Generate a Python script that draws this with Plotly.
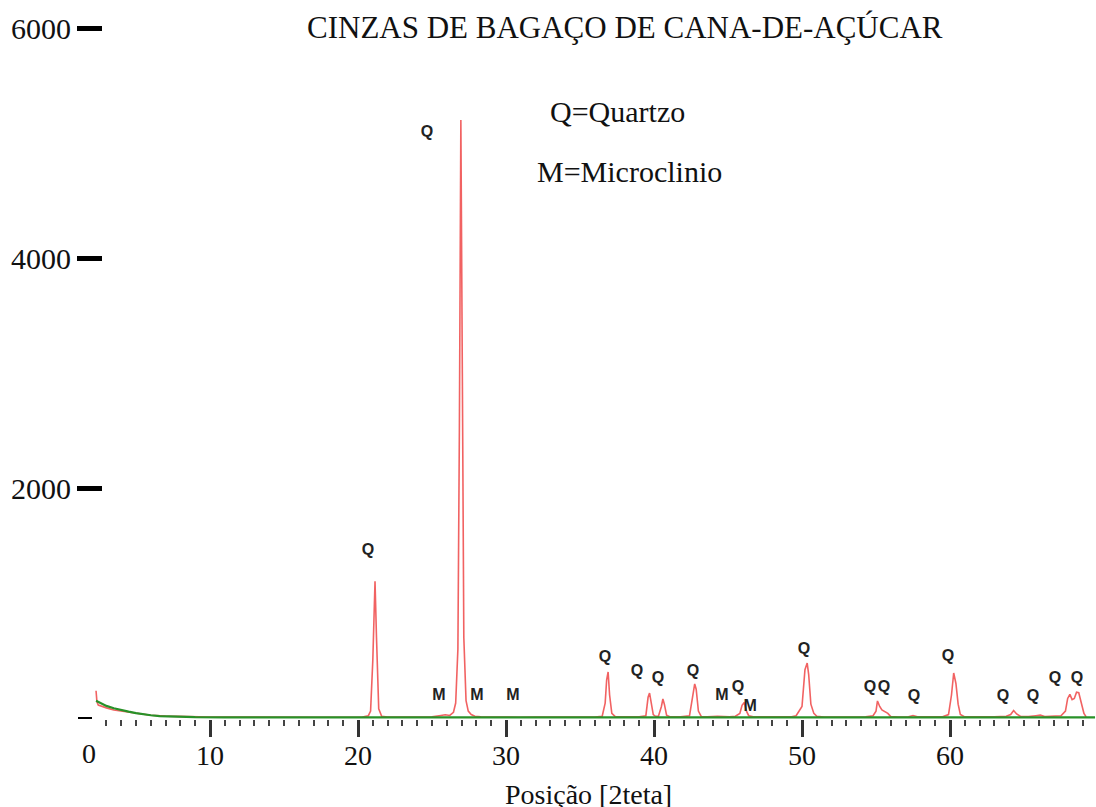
import plotly.graph_objects as go

# ---- data ----
two_theta = [2.30, 2.36, 2.45, 2.7, 3.0, 3.5, 4.0, 4.5, 5.0, 5.5, 6.0, 7.0, 8.0, 9.0, 10.0,
             11.5, 13.0, 15.0, 17.0, 19.0, 20.3, 20.7, 20.85, 21.0, 21.1, 21.15, 21.25, 21.4,
             21.6, 22.0, 23.0, 24.0, 25.0, 25.6, 25.9, 26.2, 26.45, 26.6, 26.75, 26.85, 26.95,
             27.05, 27.15, 27.3, 27.45, 27.65, 27.9, 28.3, 29.0, 30.0, 31.0, 32.0, 33.0, 34.0,
             35.0, 36.0, 36.5, 36.7, 36.8, 36.9, 37.0, 37.15, 37.4, 38.0, 39.0, 39.45, 39.6,
             39.7, 39.8, 39.95, 40.1, 40.3, 40.5, 40.6, 40.7, 40.85, 41.1, 41.8, 42.4, 42.6,
             42.75, 42.85, 43.0, 43.2, 43.6, 44.3, 44.7, 45.1, 45.5, 45.8, 45.95, 46.1, 46.25,
             46.4, 46.7, 47.5, 48.5, 49.3, 49.6, 50.0, 50.2, 50.35, 50.45, 50.6, 50.8, 51.0,
             51.5, 52.5, 53.5, 54.3, 54.8, 55.0, 55.1, 55.25, 55.4, 55.6, 55.8, 56.0, 56.5,
             57.2, 57.5, 57.8, 58.5, 59.5, 59.9, 60.1, 60.25, 60.4, 60.55, 60.7, 61.0, 62.0,
             63.0, 63.8, 64.1, 64.3, 64.5, 64.8, 65.3, 65.8, 66.1, 66.4, 67.0, 67.5, 67.8,
             67.95, 68.1, 68.25, 68.4, 68.55, 68.7, 68.85, 69.05, 69.2]
intensity = [237, 140, 112, 100, 88, 70, 60, 48, 38, 30, 24, 16, 12, 10, 8,
             8, 6, 7, 6, 7, 9, 20, 60, 500, 1100, 1190, 700, 80,
             15, 8, 8, 7, 10, 22, 28, 22, 50, 130, 600, 2500, 5200,
             3000, 700, 150, 60, 30, 15, 10, 8, 8, 7, 8, 7, 8,
             10, 9, 15, 130, 330, 400, 200, 40, 10, 8, 10, 20, 180,
             217, 150, 30, 15, 15, 100, 165, 120, 25, 10, 10, 20, 200,
             296, 250, 60, 12, 10, 15, 12, 10, 15, 40, 110, 135, 60,
             20, 10, 10, 12, 10, 20, 100, 420, 478, 380, 120, 40, 15,
             8, 10, 8, 10, 20, 60, 148, 100, 70, 55, 40, 12, 8,
             10, 22, 10, 8, 10, 30, 200, 391, 300, 120, 30, 10, 8,
             10, 15, 30, 65, 35, 12, 12, 20, 25, 12, 15, 20, 60,
             170, 205, 160, 170, 225, 220, 140, 40, 10]

bg_theta = [2.3, 2.6, 3.0, 3.5, 4.0, 4.5, 5.0, 5.5, 6.0, 6.6, 7.2, 7.8, 9.0, 11, 15, 20,
            30, 40, 50, 60, 69.8]
bg_intensity = [150, 128, 105, 85, 68, 55, 42, 32, 24, 17, 13, 10, 7, 6, 5, 5,
                5, 5, 5, 5, 5]

label_text = ["Q", "Q", "M", "M", "M", "Q", "Q", "Q", "Q", "M", "Q", "M", "Q",
              "Q", "Q", "Q", "Q", "Q", "Q", "Q", "Q"]
label_x = [24.66, 20.68, 25.47, 28.04, 30.47, 36.69, 38.85, 40.27, 42.64, 44.59, 45.68,
           46.49, 50.14, 54.59, 55.54, 57.57, 59.86, 63.58, 65.61, 67.09, 68.58]
label_y = [5087, 1452, 191, 191, 191, 522, 400, 339, 400, 191, 261, 96, 591,
           261, 261, 183, 530, 183, 183, 339, 339]

x_major = [10, 20, 30, 40, 50, 60]
x_minor = [v for v in range(3, 70) if v % 10 != 0]
y_ticks = [2000, 4000, 6000]

W, H = 1096, 807
PLOT_H = 719
SERIF = "Liberation Serif, Times New Roman, serif"
XRANGE = [-62 / 14.8, (W - 62) / 14.8]
YRANGE = [-8.7, 6243.5]


def px(x):
    return x / W


def py(y):
    return (PLOT_H - y) / PLOT_H


fig = go.Figure()
fig.add_trace(go.Scatter(x=two_theta, y=intensity, mode="lines",
                         line=dict(color="rgba(238,70,70,0.85)", width=1.6),
                         showlegend=False))
fig.add_trace(go.Scatter(x=bg_theta, y=bg_intensity, mode="lines",
                         line=dict(color="rgb(40,145,40)", width=2.2),
                         showlegend=False))
fig.add_trace(go.Scatter(x=label_x, y=label_y, mode="text",
                         text=["<b>" + t + "</b>" for t in label_text],
                         textposition="middle center",
                         textfont=dict(family="Liberation Sans, Arial, sans-serif",
                                       size=16, color="#222"),
                         showlegend=False))
# empty trace carrying the short y=0 tick axis
fig.add_trace(go.Scatter(x=[None], y=[None], yaxis="y2", showlegend=False))

annotations = [
    dict(x=px(625), y=py(28), xref="paper", yref="paper",
         text="CINZAS DE BAGAÇO DE CANA-DE-AÇÚCAR", showarrow=False,
         font=dict(family=SERIF, size=31, color="#111"), xanchor="center", yanchor="middle"),
    dict(x=px(617), y=py(111), xref="paper", yref="paper", text="Q=Quartzo",
         showarrow=False, font=dict(family=SERIF, size=30, color="#111"),
         xanchor="center", yanchor="middle"),
    dict(x=px(629), y=py(171), xref="paper", yref="paper", text="M=Microclinio",
         showarrow=False, font=dict(family=SERIF, size=30, color="#111"),
         xanchor="center", yanchor="middle"),
    dict(x=px(588), y=py(794), xref="paper", yref="paper", text="Posição [2teta]",
         showarrow=False, font=dict(family=SERIF, size=28, color="#111"),
         xanchor="center", yanchor="middle"),
    dict(x=px(89), y=py(754), xref="paper", yref="paper", text="0",
         showarrow=False, font=dict(family=SERIF, size=28, color="#111"),
         xanchor="center", yanchor="middle"),
]

fig.update_layout(
    width=W, height=H,
    margin=dict(l=0, r=0, t=0, b=H - PLOT_H, pad=0),
    paper_bgcolor="white", plot_bgcolor="white",
    xaxis=dict(range=XRANGE, tickmode="array", tickvals=x_major,
               ticks="outside", ticklen=17, tickwidth=3, tickcolor="#333",
               showgrid=False, zeroline=False, showline=False,
               ticklabelstandoff=-6,
               tickfont=dict(family=SERIF, size=28, color="#111"),
               minor=dict(tickmode="array", tickvals=x_minor, ticks="outside",
                          ticklen=6, tickwidth=2, tickcolor="#444", showgrid=False)),
    yaxis=dict(range=YRANGE, anchor="free", position=102 / W,
               tickmode="array", tickvals=y_ticks, ticks="outside", ticklen=25,
               tickwidth=5, tickcolor="black", showgrid=False, zeroline=False,
               showline=False, tickfont=dict(family=SERIF, size=30, color="#111")),
    yaxis2=dict(range=YRANGE, overlaying="y", anchor="free", position=92 / W,
                tickmode="array", tickvals=[0], ticks="outside", ticklen=14,
                tickwidth=2, tickcolor="black", showticklabels=False,
                showgrid=False, zeroline=False, showline=False),
    annotations=annotations,
)

fig.write_html("out.html")
